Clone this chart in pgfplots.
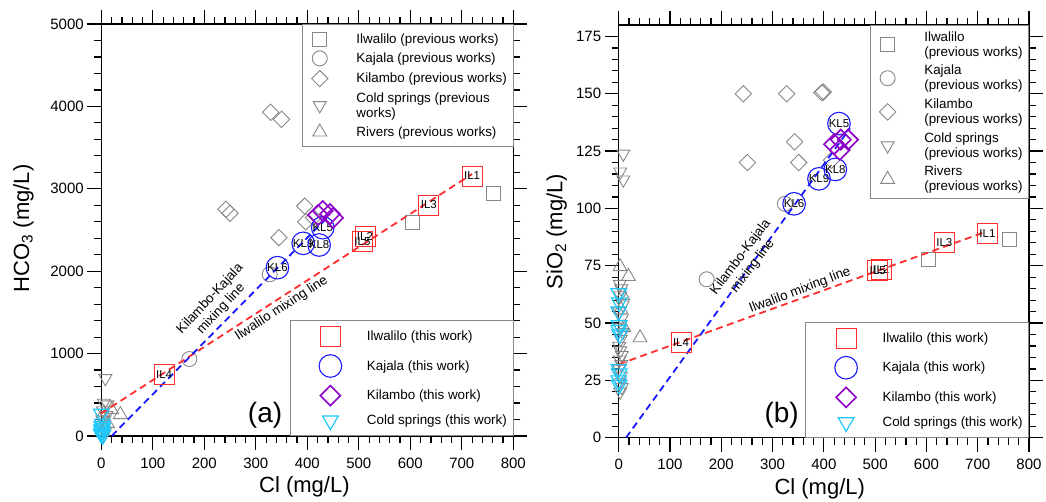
\documentclass[border=0pt]{standalone}
\usepackage{pgfplots}
\pgfplotsset{compat=1.18}
\usepackage{fontspec}
\setmainfont{Liberation Sans}

\definecolor{prevgray}{RGB}{135,135,135}
\definecolor{ilred}{RGB}{255,45,45}
\definecolor{kjblue}{RGB}{25,25,255}
\definecolor{klpurple}{RGB}{140,0,200}
\definecolor{cscyan}{RGB}{30,200,250}

\tikzset{smalltxt/.style={font=\fontsize{13.4}{15}\selectfont, align=center}}

\pgfplotsset{
  chemframe/.style={
    scale only axis, clip=false,
    xmin=0, xmax=800, xtick={0,100,...,800}, minor x tick num=4,
    tick pos=both, tick align=outside,
    major tick length=14pt, minor tick length=7pt,
    every tick/.style={black, line width=1.2pt},
    every minor tick/.style={black, line width=1.2pt},
    axis line style={line width=1.2pt},
    tick label style={font=\fontsize{15}{18}\selectfont},
    xticklabel style={yshift=-4pt},
    /pgf/number format/assume math mode=true,
    /pgf/number format/1000 sep={},
    scaled ticks=false,
    label style={font=\fontsize{22}{26}\selectfont},
    xlabel={Cl (mg/L)},
  },
  overaxis/.style={scale only axis, clip=false, hide axis, xmin=0, xmax=800},
  legbase/.style={
    legend style={font=\fontsize{13.4}{15}\selectfont, draw=prevgray, line width=0.8pt,
      fill=white, cells={anchor=west, align=left}, nodes={inner sep=1pt},
      inner xsep=5pt, column sep=0pt, at={(1,1)}, anchor=north east},
  },
  upperleg/.style={legbase,
    legend image code/.code={\path[draw=none, fill=none] (0pt,0pt) -- (48pt,0pt);
      \draw[mark repeat=2,mark phase=2]
      plot coordinates {(0pt,0pt) (12.3pt,0pt) (24.6pt,0pt)};},
    legend style={row sep=4.5pt, inner ysep=8pt},
  },
  lowerleg/.style={legbase,
    legend image code/.code={\path[draw=none, fill=none] (0pt,0pt) -- (71pt,0pt);
      \draw[mark repeat=2,mark phase=2]
      plot coordinates {(0pt,0pt) (35.5pt,0pt) (71pt,0pt)};},
    legend style={row sep=8.3pt, inner ysep=6pt, at={(1,0)}, anchor=south east},
  },
  gsq/.style={only marks, prevgray, line width=0.9pt, mark=square, mark size=7pt},
  gci/.style={only marks, prevgray, line width=0.9pt, mark=o, mark size=7.5pt},
  gdi/.style={only marks, prevgray, line width=0.9pt, mark=square, mark size=5.8pt, mark options={rotate=45}},
  gdn/.style={only marks, prevgray, line width=0.9pt, mark=triangle, mark size=7.5pt, mark options={rotate=180}},
  gup/.style={only marks, prevgray, line width=0.9pt, mark=triangle, mark size=8pt},
  rsq/.style={only marks, ilred, line width=0.9pt, mark=square, mark size=10pt},
  bci/.style={only marks, kjblue, line width=1.1pt, mark=o, mark size=11.3pt},
  pdi/.style={only marks, klpurple, line width=1.6pt, mark=square, mark size=7.1pt, mark options={rotate=45}},
  cdn/.style={only marks, cscyan, line width=1.2pt, mark=triangle, mark size=9pt, mark options={rotate=180}},
  ptlab/.style={nodes near coords, point meta=explicit symbolic,
    every node near coord/.append style={anchor=center, text=black, inner sep=0pt,
      font=\fontsize{11.5}{13}\selectfont}},
  mixline/.style={line width=1.8pt, dash pattern=on 7pt off 4.5pt, forget plot},
}

\begin{document}
\begin{tikzpicture}
\useasboundingbox (0,0) rectangle (1046pt,502pt);

% ---------------- (a) HCO3 versus Cl ----------------
\begin{axis}[chemframe, upperleg,
  at={(101.3pt,66pt)}, anchor=south west, width=412pt, height=412pt,
  ymin=0, ymax=5000, ytick={0,1000,...,5000}, minor y tick num=4,
  ylabel={HCO\textsubscript{3} (mg/L)},
  xlabel style={at={(axis description cs:0.493,-0.124)}, anchor=center},
  ylabel style={at={(axis description cs:-0.189,0.504)}, anchor=center}]
\addplot[gsq] table {
x y
762 2945
604 2589
};
\addlegendentry{Ilwalilo (previous works)}
\addplot[gci] table {
x y
171 934
327 1962
};
\addlegendentry{Kajala (previous works)}
\addplot[gdi] table {
x y
329 3928
350 3843
242 2751
250 2702
345 2407
395 2790
397 2600
412 2650
};
\addlegendentry{Kilambo (previous works)}
\addplot[gdn] table {
x y
8 700
5 400
12 380
3 310
10 250
2 200
6 150
3 100
8 60
1 30
4 10
};
\addlegendentry{Cold springs (previous\\works)}
\addplot[gup] table {
x y
20 320
37 260
5 280
12 150
2 60
};
\addlegendentry{Rivers (previous works)}
\end{axis}

\begin{axis}[overaxis, lowerleg,
  at={(101.3pt,66pt)}, anchor=south west, width=412pt, height=412pt,
  ymin=0, ymax=5000]
\addplot[mixline, ilred] coordinates {(0,275) (720,3180)};
\addplot[mixline, kjblue] coordinates {(20,0) (444,2685)};
\addplot[rsq, ptlab] table[meta=lab] {
x y lab
720 3155 IL1
636 2803 IL3
512 2427 IL2
507 2358 IL5
122 748 IL4
};
\addlegendentry{Ilwalilo (this work)}
\addplot[bci, ptlab] table[meta=lab] {
x y lab
342 2043 KL6
392 2338 KL9
423 2318 KL8
430 2528 KL5
};
\addlegendentry{Kajala (this work)}
\addplot[pdi] table {
x y
421 2682
430 2731
444 2694
450 2646
};
\addlegendentry{Kilambo (this work)}
\addplot[cdn] table {
x y
0 270
2 150
1 120
3 100
0 80
2 60
1 40
0 20
3 10
};
\addlegendentry{Cold springs (this work)}
\node[smalltxt, rotate=47] at (axis cs:222,1600) {Kilambo-Kajala\\mixing line};
\node[smalltxt, rotate=33] at (axis cs:350,1545) {Ilwalilo mixing line};
\node[font=\fontsize{28}{32}\selectfont] at (axis cs:318,255) {(a)};
\end{axis}

% ---------------- (b) SiO2 versus Cl ----------------
\begin{axis}[chemframe, upperleg,
  at={(618.7pt,64.3pt)}, anchor=south west, width=410.3pt, height=412.7pt,
  ymin=0, ymax=180, ytick={0,25,...,175}, minor y tick num=4,
  ylabel={SiO\textsubscript{2} (mg/L)},
  xlabel style={at={(axis description cs:0.49,-0.123)}, anchor=center},
  ylabel style={at={(axis description cs:-0.151,0.499)}, anchor=center},
  legend style={row sep=5.5pt, inner ysep=5pt}]
\addplot[gsq] table {
x y
761 86.6
604 77.8
};
\addlegendentry{Ilwalilo\\(previous works)}
\addplot[gci] table {
x y
171.5 69.1
324 102
};
\addlegendentry{Kajala\\(previous works)}
\addplot[gdi] table {
x y
243 150
327.5 150
396 150.5
399 150.8
343 129
251 120
351 120
415 121
};
\addlegendentry{Kilambo\\(previous works)}
\addplot[gdn] table {
x y
9 123.8
3 116
9 112.5
2 67
5 65
3 62
8 58
1 55
6 52
2 48
8 46
4 43
1 40
3 38
6 36
2 34
5 32
1 30
4 27
2 24
6 22
3 20
};
\addlegendentry{Cold springs\\(previous works)}
\addplot[gup] table {
x y
2.6 74.6
19 70.3
41.6 43.6
8 62
10 48
4 56
};
\addlegendentry{Rivers\\(previous works)}
\end{axis}

\begin{axis}[overaxis, lowerleg,
  at={(618.7pt,64.3pt)}, anchor=south west, width=410.3pt, height=412.7pt,
  ymin=0, ymax=180]
\addplot[mixline, ilred] coordinates {(0,32) (713,89.6)};
\addplot[mixline, kjblue] coordinates {(14.3,0) (451,135)};
\addplot[rsq, ptlab] table[meta=lab] {
x y lab
719 88.9 IL1
635 85.3 IL3
512 73.5 IL2
505 73 IL5
121.5 41.5 IL4
};
\addlegendentry{Ilwalilo (this work)}
\addplot[bci, ptlab] table[meta=lab] {
x y lab
342 102 KL6
390.5 112.9 KL9
422.4 117 KL8
429.5 137 KL5
};
\addlegendentry{Kajala (this work)}
\addplot[pdi] table {
x y
420 128
433 130
447 130
431 125.5
};
\addlegendentry{Kilambo (this work)}
\addplot[cdn] table {
x y
0 63
1 59
0 55
1 49
0 47
2 45
0 30
1 28
0 25
1 23
};
\addlegendentry{Cold springs (this work)}
\node[smalltxt, rotate=52.7] at (axis cs:249.6,76.8) {Kilambo-Kajala\\mixing line};
\node[smalltxt, rotate=21] at (axis cs:353.5,64.2) {Ilwalilo mixing line};
\node[font=\fontsize{28}{32}\selectfont] at (axis cs:317.8,9.9) {(b)};
\end{axis}
\end{tikzpicture}
\end{document}
